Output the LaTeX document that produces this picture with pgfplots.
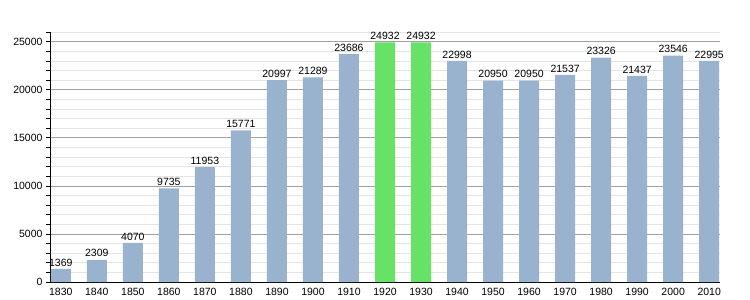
\documentclass[border=0pt]{standalone}
\usepackage{pgfplots}
\pgfplotsset{compat=1.18}
\usepackage{fontspec}
\setmainfont{Liberation Sans}
\definecolor{barblue}{RGB}{153,179,207}
\definecolor{bargreen}{RGB}{102,226,102}
\definecolor{majgrid}{RGB}{160,160,160}
\definecolor{mingrid}{RGB}{228,228,228}
\begin{document}
\begin{tikzpicture}
\useasboundingbox (0,0) rectangle (750bp,300bp);
\begin{axis}[
  at={(50bp,18bp)}, anchor=south west,
  scale only axis, width=670bp, height=250bp,
  xmin=-0.3, xmax=18.3, ymin=0, ymax=26000,
  axis lines*=left, axis line style={-, black, line width=0.8pt},
  xtick={0,...,18},
  xticklabels={1830,1840,1850,1860,1870,1880,1890,1900,1910,1920,1930,1940,1950,1960,1970,1980,1990,2000,2010},
  ytick={0,5000,...,25000},
  minor ytick={0,1000,...,26000},
  ymajorgrids, yminorgrids,
  major grid style={majgrid, line width=0.6pt},
  minor grid style={mingrid, line width=0.6pt},
  major x tick style={draw=none},
  major y tick style={black, line width=0.6pt},
  minor y tick style={black, line width=0.6pt},
  tick align=outside, major tick length=4bp, minor tick length=4bp,
  xtick style={draw=none},
  tick label style={font=\fontsize{10.5bp}{12bp}\selectfont},
  /pgf/number format/assume math mode=true,
  /pgf/number format/1000 sep={},
  scaled y ticks=false,
  xticklabel style={yshift=1bp},
  nodes near coords,
  nodes near coords style={font=\fontsize{10.5bp}{12bp}\selectfont, /pgf/number format/fixed, /pgf/number format/1000 sep={}, /pgf/number format/precision=0, inner sep=2.5bp},
  every axis plot/.append style={ybar, bar width=20bp, bar shift=0pt, draw=none},
  clip=false,
]
\addplot[fill=barblue] coordinates {
(0,1369) (1,2309) (2,4070) (3,9735) (4,11953) (5,15771) (6,20997) (7,21289) (8,23686)
(11,22998) (12,20950) (13,20950) (14,21537) (15,23326) (16,21437) (17,23546) (18,22995)};
\addplot[fill=bargreen] coordinates {(9,24932) (10,24932)};
\end{axis}
\end{tikzpicture}
\end{document}
